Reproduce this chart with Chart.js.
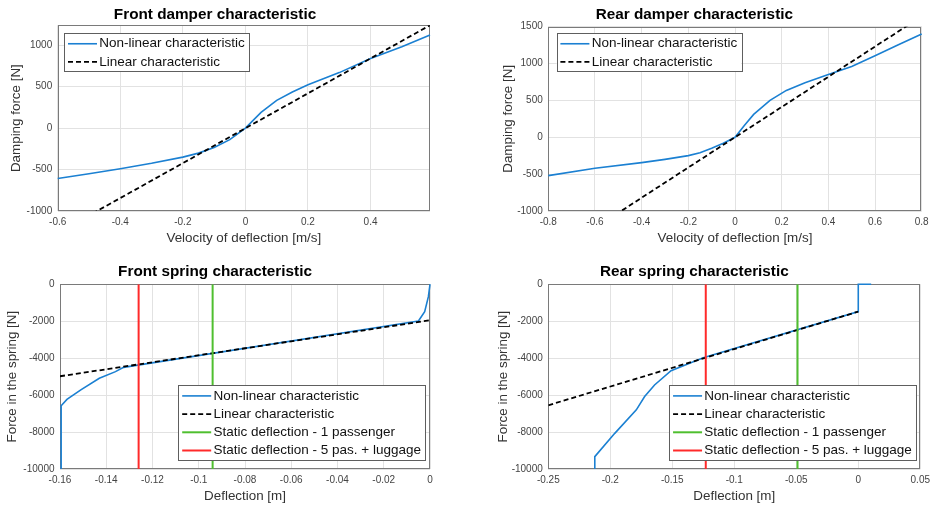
<!DOCTYPE html>
<html lang="en">
<head>
  <meta charset="UTF-8">
  <title>Damper and spring characteristics</title>
  <style>
    body { margin: 0; background: #fff; }
    #wrap { position: relative; width: 935px; height: 506px; }
    .panel { position: absolute; }
  </style>
</head>
<body>
  <div id="wrap">
    <div class="panel" style="left:0;top:0;width:467px;height:250px"><canvas id="frontDamper"></canvas></div>
    <div class="panel" style="left:467px;top:0;width:468px;height:250px"><canvas id="rearDamper"></canvas></div>
    <div class="panel" style="left:0;top:250px;width:467px;height:256px"><canvas id="frontSpring"></canvas></div>
    <div class="panel" style="left:467px;top:250px;width:468px;height:256px"><canvas id="rearSpring"></canvas></div>
  </div>
  <script src="https://cdn.jsdelivr.net/npm/chart.js@4/dist/chart.umd.min.js"></script>
  <script>
    // values
    const legendLabels = ['Non-linear characteristic', 'Linear characteristic',
      'Static deflection - 1 passenger', 'Static deflection - 5 pas. + luggage'];

    const frontDamperVel   = [-0.6, -0.5, -0.4, -0.3, -0.2, -0.15, -0.1, -0.05, 0, 0.05, 0.1, 0.15, 0.2, 0.3, 0.4, 0.5, 0.59];
    const frontDamperForce = [-608, -550, -491, -425, -350, -302, -235, -140, 0, 190, 335, 436, 523, 669, 839, 981, 1123];
    const frontDamperLinVel   = [-0.6, 0.59];
    const frontDamperLinForce = [-1265, 1240];

    const rearDamperVel   = [-0.8, -0.6, -0.4, -0.3, -0.2, -0.15, -0.1, -0.05, 0, 0.04, 0.08, 0.15, 0.22, 0.3, 0.4, 0.5, 0.6, 0.7, 0.8];
    const rearDamperForce = [-520, -420, -344, -300, -249, -210, -150, -80, 0, 160, 310, 500, 635, 740, 850, 960, 1105, 1255, 1400];
    const rearDamperLinVel   = [-0.8, 0.8];
    const rearDamperLinForce = [-1640, 1640];

    const frontSpringDefl  = [-0.1595, -0.1595, -0.157, -0.151, -0.143, -0.136, -0.1325, -0.005, -0.0023, -0.0007, 0];
    const frontSpringForce = [-10000, -6580, -6230, -5720, -5090, -4730, -4500, -1985, -1480, -670, 0];
    const frontSpringLinDefl  = [-0.16, 0];
    const frontSpringLinForce = [-4980, -1950];
    const frontStaticOne  = -0.094;
    const frontStaticFive = -0.126;

    const rearSpringDefl  = [-0.2125, -0.2125, -0.1964, -0.179, -0.1723, -0.1643, -0.151, -0.125, 0, 0, 0.0104];
    const rearSpringForce = [-10000, -9330, -8070, -6800, -6080, -5450, -4680, -3980, -1480, 0, 0];
    const rearSpringLinDefl  = [-0.25, 0];
    const rearSpringLinForce = [-6550, -1480];
    const rearStaticOne  = -0.049;
    const rearStaticFive = -0.123;

    const frontDamperVelTicks   = [-0.6, -0.4, -0.2, 0, 0.2, 0.4];
    const frontDamperForceTicks = [-1000, -500, 0, 500, 1000];
    const rearDamperVelTicks    = [-0.8, -0.6, -0.4, -0.2, 0, 0.2, 0.4, 0.6, 0.8];
    const rearDamperForceTicks  = [-1000, -500, 0, 500, 1000, 1500];
    const frontSpringDeflTicks  = [-0.16, -0.14, -0.12, -0.1, -0.08, -0.06, -0.04, -0.02, 0];
    const rearSpringDeflTicks   = [-0.25, -0.2, -0.15, -0.1, -0.05, 0, 0.05];
    const springForceTicks      = [-10000, -8000, -6000, -4000, -2000, 0];

    const FONT = '"Liberation Sans", Arial, Helvetica, sans-serif';
    const BLUE = '#1b80d2', GREEN = '#4fbf2f', RED = '#ff2a2a';
    Chart.defaults.font.family = FONT;

    function pts(xs, ys) { return xs.map((x, i) => ({ x: x, y: ys[i] })); }

    function curve(label, xs, ys, color, dash, order, clip) {
      return { label: label, data: pts(xs, ys), borderColor: color, borderWidth: dash.length ? 1.8 : 1.6,
        borderDash: dash, pointRadius: 0, order: order, tension: 0, clip: clip };
    }
    function vline(label, x, yMin, yMax, color, order) {
      return { label: label, data: [{ x: x, y: yMin }, { x: x, y: yMax }], borderColor: color,
        borderWidth: 2, pointRadius: 0, order: order };
    }

    // legend box inside the axes and the axes frame, MATLAB style
    const boxLegend = {
      id: 'boxLegend',
      afterDatasetsDraw(chart, args, opts) {
        const ctx = chart.ctx, a = chart.chartArea, items = chart.data.datasets;
        ctx.save();
        ctx.font = '13.5px ' + FONT;
        const textW = Math.max(...items.map(d => ctx.measureText(d.label).width));
        const w = 3.7 + 29 + 2.3 + textW + 4;
        const h = 10.5 + 18.2 * (items.length - 1) + 9.5;
        const x = opts.corner === 'nw' ? a.left + opts.dx : a.right - opts.dx - w;
        const y = opts.corner === 'nw' ? a.top + opts.dy : a.bottom - opts.dy - h;
        ctx.fillStyle = '#fff';
        ctx.fillRect(x, y, w, h);
        ctx.strokeStyle = '#5e5e5e';
        ctx.lineWidth = 1;
        ctx.strokeRect(Math.round(x) + 0.5, Math.round(y) + 0.5, Math.round(w), Math.round(h));
        items.forEach((d, i) => {
          const cy = y + 10.5 + i * 18.2;
          ctx.strokeStyle = d.borderColor;
          ctx.lineWidth = d.borderWidth;
          ctx.setLineDash(d.borderDash || []);
          ctx.beginPath();
          ctx.moveTo(x + 3.7, cy);
          ctx.lineTo(x + 32.7, cy);
          ctx.stroke();
          ctx.setLineDash([]);
          ctx.fillStyle = '#111';
          ctx.textBaseline = 'middle';
          ctx.fillText(d.label, x + 35, cy);
        });
        ctx.restore();
      },
      beforeDatasetsDraw(chart) {
        const ctx = chart.ctx, a = chart.chartArea;
        ctx.save();
        ctx.strokeStyle = '#7a7a7a';
        ctx.lineWidth = 1;
        ctx.strokeRect(Math.round(a.left) + 0.5, Math.round(a.top) + 0.5,
          Math.round(a.right - a.left) - 1, Math.round(a.bottom - a.top) - 1);
        ctx.restore();
      }
    };

    const fmt = v => String(+v.toFixed(4));

    function makeChart(id, c) {
      const tickFont = { family: FONT, size: 10 };
      const labelFont = { family: FONT, size: 13.4 };
      return new Chart(document.getElementById(id), {
        type: 'line',
        data: { datasets: c.datasets },
        options: {
          responsive: true,
          maintainAspectRatio: false,
          animation: false,
          layout: { padding: { left: 0, right: c.padRight, top: 0, bottom: 0 } },
          plugins: {
            legend: { display: false },
            tooltip: { enabled: false },
            title: { display: true, text: c.title, color: '#000',
              font: { family: FONT, size: 15.3, weight: 'bold' },
              padding: { top: c.titleTop, bottom: c.titleBottom } },
            boxLegend: c.legend
          },
          scales: {
            x: {
              type: 'linear', min: c.xMin, max: c.xMax,
              afterFit: s => { s.height = c.xAxisHeight; },
              afterBuildTicks: s => { s.ticks = c.xTicks.map(v => ({ value: v })); },
              grid: { color: '#e2e2e2', drawTicks: false },
              border: { display: false },
              ticks: { color: '#444', font: tickFont, padding: 5, maxRotation: 0, autoSkip: false, callback: fmt },
              title: { display: true, text: c.xTitle, color: '#333', font: labelFont, padding: { top: 0, bottom: c.xTitlePad } }
            },
            y: {
              type: 'linear', min: c.yMin, max: c.yMax,
              afterFit: s => { s.width = c.yAxisWidth; },
              afterBuildTicks: s => { s.ticks = c.yTicks.map(v => ({ value: v })); },
              grid: { color: '#e2e2e2', drawTicks: false },
              border: { display: false },
              ticks: { color: '#444', font: tickFont, padding: 5.5, autoSkip: false, callback: fmt },
              title: { display: true, text: c.yTitle, color: '#333', font: labelFont, padding: { top: c.yTitlePad, bottom: 0 } }
            }
          }
        },
        plugins: [boxLegend]
      });
    }

    makeChart('frontDamper', {
      title: 'Front damper characteristic', titleTop: 5.5, titleBottom: 1.4,
      padRight: 37, xAxisHeight: 39, yAxisWidth: 57.7,
      xMin: -0.6, xMax: 0.59, yMin: -1000, yMax: 1240,
      xTicks: frontDamperVelTicks, yTicks: frontDamperForceTicks,
      xTitle: 'Velocity of deflection [m/s]', yTitle: 'Damping force [N]', xTitlePad: 4, yTitlePad: 8,
      legend: { corner: 'nw', dx: 6.6, dy: 8 },
      datasets: [
        curve(legendLabels[0], frontDamperVel, frontDamperForce, BLUE, [], 3, 2),
        curve(legendLabels[1], frontDamperLinVel, frontDamperLinForce, '#000', [5, 3], 2, 0)
      ]
    });

    makeChart('rearDamper', {
      title: 'Rear damper characteristic', titleTop: 5.3, titleBottom: 3,
      padRight: 13.3, xAxisHeight: 39, yAxisWidth: 81.3,
      xMin: -0.8, xMax: 0.8, yMin: -1000, yMax: 1500,
      xTicks: rearDamperVelTicks, yTicks: rearDamperForceTicks,
      xTitle: 'Velocity of deflection [m/s]', yTitle: 'Damping force [N]', xTitlePad: 4, yTitlePad: 33.3,
      legend: { corner: 'nw', dx: 8.4, dy: 6.6 },
      datasets: [
        curve(legendLabels[0], rearDamperVel, rearDamperForce, BLUE, [], 3, 2),
        curve(legendLabels[1], rearDamperLinVel, rearDamperLinForce, '#000', [5, 3], 2, 0)
      ]
    });

    makeChart('frontSpring', {
      title: 'Front spring characteristic', titleTop: 12.5, titleBottom: 3.4,
      padRight: 37, xAxisHeight: 37, yAxisWidth: 60,
      xMin: -0.16, xMax: 0, yMin: -10000, yMax: 0,
      xTicks: frontSpringDeflTicks, yTicks: springForceTicks,
      xTitle: 'Deflection [m]', yTitle: 'Force in the spring [N]', xTitlePad: 2, yTitlePad: 4.3,
      legend: { corner: 'se', dx: 5, dy: 9 },
      datasets: [
        curve(legendLabels[0], frontSpringDefl, frontSpringForce, BLUE, [], 3, 2),
        curve(legendLabels[1], frontSpringLinDefl, frontSpringLinForce, '#000', [5, 3], 2, 0),
        vline(legendLabels[2], frontStaticOne, -10000, 0, GREEN, 1),
        vline(legendLabels[3], frontStaticFive, -10000, 0, RED, 0)
      ]
    });

    makeChart('rearSpring', {
      title: 'Rear spring characteristic', titleTop: 12.5, titleBottom: 3.4,
      padRight: 13.3, xAxisHeight: 37, yAxisWidth: 81.3,
      xMin: -0.25, xMax: 0.05, yMin: -10000, yMax: 0,
      xTicks: rearSpringDeflTicks, yTicks: springForceTicks,
      xTitle: 'Deflection [m]', yTitle: 'Force in the spring [N]', xTitlePad: 2, yTitlePad: 28.3,
      legend: { corner: 'se', dx: 4.4, dy: 9 },
      datasets: [
        curve(legendLabels[0], rearSpringDefl, rearSpringForce, BLUE, [], 3, 2),
        curve(legendLabels[1], rearSpringLinDefl, rearSpringLinForce, '#000', [5, 3], 2, 0),
        vline(legendLabels[2], rearStaticOne, -10000, 0, GREEN, 1),
        vline(legendLabels[3], rearStaticFive, -10000, 0, RED, 0)
      ]
    });
  </script>
</body>
</html>
